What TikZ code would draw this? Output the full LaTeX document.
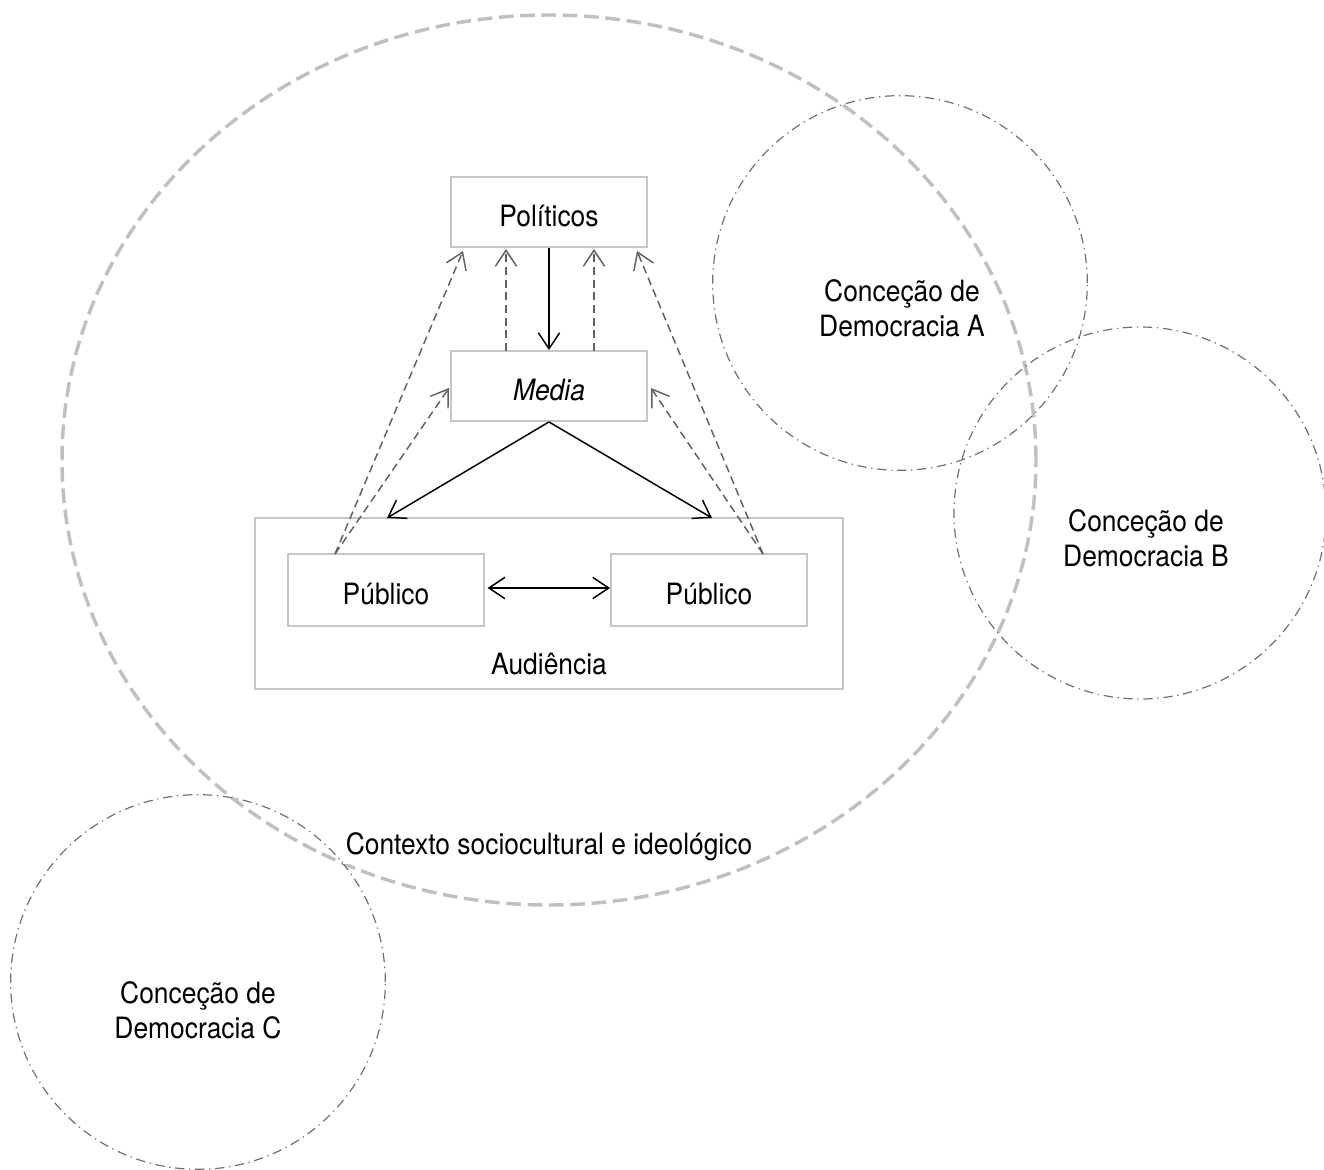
\documentclass[tikz,border=0pt]{standalone}
\usepackage{fontspec}
\setmainfont{TeX Gyre Heros}[FakeStretch=0.9]
\usetikzlibrary{arrows.meta,calc}
\definecolor{boxgray}{HTML}{C6C6C6}
\definecolor{ctxgray}{HTML}{C0C0C0}
\definecolor{flowgray}{HTML}{606060}
\definecolor{circgray}{HTML}{707070}
\begin{document}
\begin{tikzpicture}[x=0.75pt,y=-0.75pt,
  font=\fontsize{22}{26}\selectfont,
  actor/.style={draw=boxgray,line width=1.4pt,minimum width=147pt,minimum height=52.5pt,inner sep=0pt,text height=22pt,text depth=0pt},
  context/.style={draw=ctxgray,line width=2.6pt,dash pattern=on 11pt off 5pt},
  concept/.style={draw=circgray,line width=0.9pt,dash pattern=on 7pt off 3.5pt on 1pt off 3.5pt},
  label/.style={align=center,inner sep=1pt},
  flow/.style={black,line width=1.1pt,-{Straight Barb[length=12pt,width=16pt,line width=1.1pt]}},
  feedback/.style={flowgray,line width=1.1pt,dash pattern=on 6pt off 3.5pt,-{Straight Barb[length=12pt,width=16pt,line width=1.1pt]}}]
\useasboundingbox (0,0) rectangle (1324,1170);

% sociocultural context and the three conceptions of democracy
\draw[context] (549,460) ellipse [x radius=365.25pt, y radius=333.75pt];
\draw[concept] (900,283) circle [radius=140.5pt];
\draw[concept] (1140,513) circle [radius=139.5pt];
\draw[concept] (198,982) circle [radius=140.5pt];

\node[label] (ctxA) at (902,308) {Conceção de\\Democracia A};
\node[label] (ctxB) at (1146,538) {Conceção de\\Democracia B};
\node[label] (ctxC) at (198,1010) {Conceção de\\Democracia C};
\node[label,fill=white,inner sep=2pt] (ctx) at (549,847) {Contexto sociocultural e ideológico};

% actors
\node[actor] (pol) at (549,212) {Políticos};
\node[actor] (media) at (549,386) {\itshape Media};
\node[draw=boxgray,line width=1.4pt,minimum width=441pt,minimum height=128.25pt,inner sep=0pt] (aud) at (549,603.5) {};
\node[actor,minimum height=54pt] (pubL) at (386,590) {Público};
\node[actor,minimum height=54pt] (pubR) at (709,590) {Público};
\node[label] (audlbl) at (549,664) {Audiência};

% anchor points for the connectors
\coordinate (audL) at (387,518);
\coordinate (audR) at (712,518);
\coordinate (pubLtop) at (335,554);
\coordinate (pubRtop) at (763,554);
\coordinate (polL) at (463,251);
\coordinate (polR) at (637,251);
\coordinate (medL) at (449,388);
\coordinate (medR) at (651,388);
\coordinate (medUpL) at (506,351);
\coordinate (medUpR) at (594,351);
\coordinate (polDnL) at (506,249);
\coordinate (polDnR) at (594,249);

% communication flows
\draw[flow] (pol.south) -- (media.north);
\draw[flow] (media.south) -- (audL);
\draw[flow] (media.south) -- (audR);
\draw[flow,{Straight Barb[length=12pt,width=16pt,line width=1.1pt]}-{Straight Barb[length=12pt,width=16pt,line width=1.1pt]}] ([xshift=2pt,yshift=1.5pt]pubL.east) -- ([yshift=1.5pt]pubR.west);

% feedback flows
\draw[feedback] (medUpL) -- (polDnL);
\draw[feedback] (medUpR) -- (polDnR);
\draw[feedback] (pubLtop) -- (polL);
\draw[feedback] (pubLtop) -- (medL);
\draw[feedback] (pubRtop) -- (polR);
\draw[feedback] (pubRtop) -- (medR);
\end{tikzpicture}
\end{document}
